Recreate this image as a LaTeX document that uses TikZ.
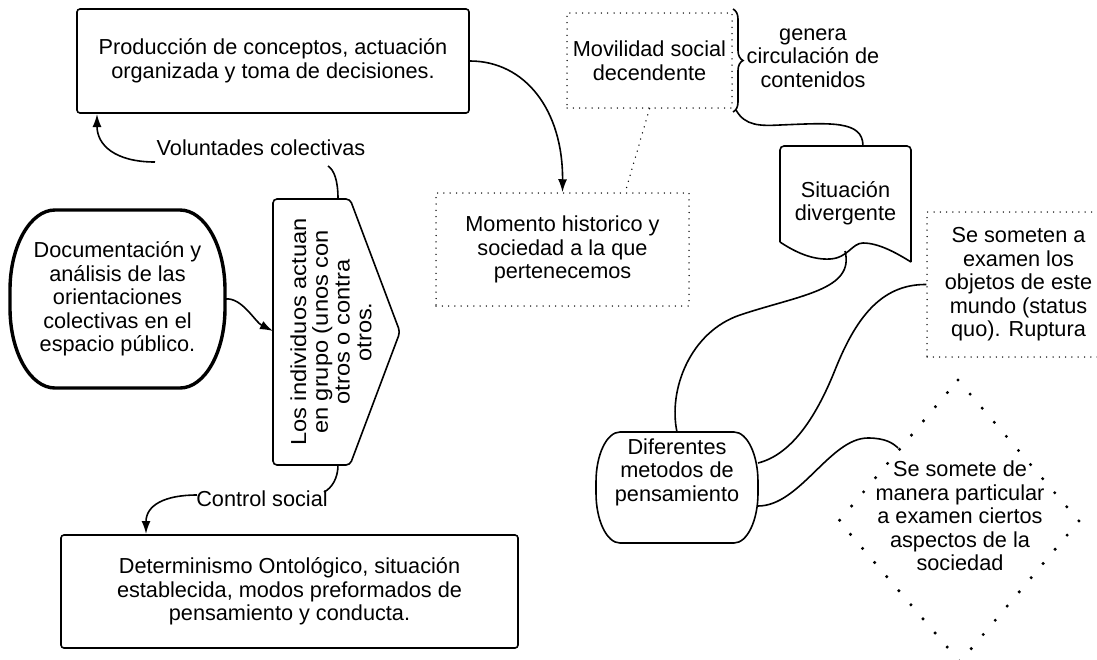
\documentclass[tikz,border=0pt]{standalone}
\usepackage{fontspec}
\setmainfont{Liberation Sans}
\newfontfamily\widefont[FakeStretch=1.09]{Liberation Sans}
\usetikzlibrary{arrows.meta,decorations.pathreplacing}
\newcommand\fsz{\fontsize{21.7}{23.5}\selectfont}
\begin{document}
\begin{tikzpicture}[x=1pt,y=-1pt,
  txt/.style={font=\fsz, align=center, inner sep=0pt},
  box/.style={draw, rounded corners=3pt, line width=1.6pt, txt},
  dotbox/.style={draw, line width=1.5pt, dash pattern=on 0pt off 6.3pt, line cap=round, txt},
  dotline/.style={line width=1.5pt, dash pattern=on 0pt off 6.3pt, line cap=round},
  bigdots/.style={line width=3.4pt, dash pattern=on 0pt off 18.57pt, line cap=round},
  conn/.style={line width=1.6pt},
  arr/.style={conn, -{Latex[length=13pt,width=9pt]}},
  ]
\useasboundingbox (0,0) rectangle (1097,659);

% ---- nodes ----
\node[box, minimum width=392pt, minimum height=104pt, font=\fontsize{21.7}{24.5}\selectfont] (prod) at (273,61)
  {Producción de conceptos, actuación\\organizada y toma de decisiones.};

\node[txt, minimum width=215pt, minimum height=178pt] (doc) at (117.5,299)
  {Documentación y\\análisis de las\\orientaciones\\colectivas en el\\espacio público.};
\draw[line width=3.4pt] (55,210) -- (180,210) .. controls (204.8,210) and (225,246) .. (225,290) -- (225,308)
  .. controls (225,352) and (204.8,388) .. (180,388) -- (55,388) .. controls (30.2,388) and (10,352) .. (10,308)
  -- (10,290) .. controls (10,246) and (30.2,210) .. (55,210) -- cycle;

\draw[conn, rounded corners=4pt] (310,199) -- (273,199) -- (273,465) -- (350,465) -- (400,332) -- (350,199) -- cycle;
\node[txt, rotate=90, font=\widefont\fontsize{21.7}{21.7}\selectfont] (pent) at (331,332)
  {Los individuos actuan\\en grupo (unos con\\otros o contra\\otros.};
\coordinate (pent-n) at (338,199);
\coordinate (pent-s) at (338,465);
\coordinate (pent-w) at (273,331);

\node[box, minimum width=457pt, minimum height=113pt] (det) at (289.5,591.5)
  {Determinismo Ontológico, situación\\establecida, modos preformados de\\pensamiento y conducta.};

\node[dotbox, minimum width=253pt, minimum height=113pt] (mom) at (562.5,249.5)
  {Momento historico y\\sociedad a la que\\pertenecemos};

\node[dotbox, minimum width=165pt, minimum height=95pt] (mov) at (649.5,60.5)
  {Movilidad social\\decendente};

\node[txt] (gen) at (813,58) {genera\\circulación de\\contenidos};

\node[txt] (sit) at (845.5,203.5) {Situación\\divergente};
\draw[conn, rounded corners=4pt] (780,242) -- (780,146) -- (911,146) -- (911,262);
\draw[conn] (780,242) .. controls (795,252) and (812,260) .. (830,259)
  .. controls (848,258) and (852,243) .. (863,243) .. controls (878,243) and (895,252) .. (911,262);

\node[dotbox, minimum width=183pt, minimum height=145pt] (som) at (1018.5,284.5)
  {Se someten a\\examen los\\objetos de este\\mundo (status\\quo). Ruptura};

\node[txt] (dif) at (677,472) {Diferentes\\metodos de\\pensamiento};
\draw[conn] (620,432) -- (734,432) .. controls (747.2,432) and (758,454.5) .. (758,482) -- (758,493)
  .. controls (758,520.5) and (747.2,543) .. (734,543) -- (620,543) .. controls (606.8,543) and (596,520.5) .. (596,493)
  -- (596,482) .. controls (596,454.5) and (606.8,432) .. (620,432) -- cycle;

\draw[bigdots] (958,380) -- (1079,521) -- (960,662) -- (839,521) -- cycle;
\node[txt] (dia) at (960,516) {Se somete de\\manera particular\\a examen ciertos\\aspectos de la\\sociedad};

% ---- labels ----
\node[txt] (vol) at (261,148) {Voluntades colectivas};
\node[txt] (ctl) at (262,499) {Control social};

% ---- coordinates for connector ends ----
\coordinate (vol-r) at (328,166);
\coordinate (vol-l) at (155,162);
\coordinate (prod-a) at (97,114);
\coordinate (ctl-r) at (324,492);
\coordinate (ctl-l) at (197,495);
\coordinate (det-a) at (146,534);
\coordinate (mom-t) at (625,193);
\coordinate (br-b) at (736,110);
\coordinate (sit-t) at (863,146);
\coordinate (sit-b) at (845,251);
\coordinate (dif-t) at (677,432);
\coordinate (dif-e1) at (758,463);
\coordinate (dif-e2) at (758,506);
\coordinate (dia-w) at (898,448);

% ---- connectors ----
\draw[conn] (pent-n) .. controls (338,180) and (334,170) .. (vol-r);
\draw[arr] (vol-l) .. controls (115,162) and (97,145) .. (prod-a);
\draw[conn] (pent-s) .. controls (338,478) and (332,488) .. (ctl-r);
\draw[arr] (ctl-l) .. controls (165,495) and (146,505) .. (det-a);
\draw[arr] (doc.east) .. controls (242,297) and (255,322) .. (pent-w);
\draw[arr] (prod.east) .. controls (525,61) and (563,110) .. (mom.north);
\draw[dotline] (mov.south) -- (mom-t);
\draw[conn, decorate, decoration={brace, amplitude=10pt}] (733,9) -- (733,112);
\draw[conn] (br-b) .. controls (745,126) and (760,126) .. (780,125) .. controls (830,123) and (863,120) .. (sit-t);
\draw[conn] (sit-b) .. controls (855,290) and (800,295) .. (740,315) .. controls (690,332) and (668,390) .. (dif-t);
\draw[conn] (som.west) .. controls (880,284) and (855,320) .. (835,370) .. controls (815,420) and (790,455) .. (dif-e1);
\draw[conn] (dif-e2) .. controls (800,506) and (830,438) .. (868,438) .. controls (885,438) and (893,443) .. (dia-w);
\end{tikzpicture}
\end{document}
